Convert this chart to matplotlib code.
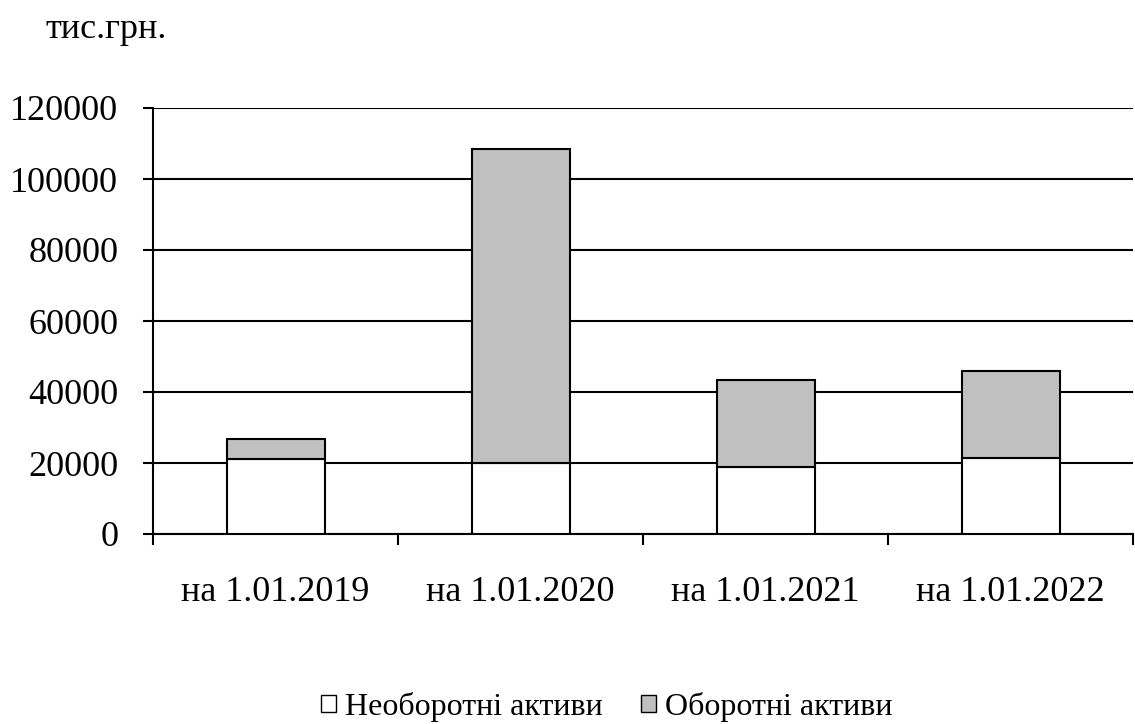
import numpy as np
import matplotlib.pyplot as plt
from matplotlib.patches import Patch

dates = ['на 1.01.2019', 'на 1.01.2020', 'на 1.01.2021', 'на 1.01.2022']
non_current = [21000, 20000, 18900, 21400]   # Необоротні активи
current = [5700, 88400, 24500, 24600]        # Оборотні активи
y_ticks = [0, 20000, 40000, 60000, 80000, 100000, 120000]

LW = 1.5
plt.rcParams['font.family'] = ['Liberation Serif', 'DejaVu Serif']

fig = plt.figure(figsize=(11.35, 7.24), dpi=100)
ax = fig.add_axes([153 / 1135, 1 - 534 / 724, 980 / 1135, 426 / 724])

x = np.arange(len(dates))
ax.bar(x, non_current, width=0.4, color='white', edgecolor='black', linewidth=LW, zorder=3)
ax.bar(x, current, width=0.4, bottom=non_current, color='#c0c0c0', edgecolor='black',
       linewidth=LW, zorder=3)

ax.set_xlim(-0.5, len(dates) - 0.5)
ax.set_ylim(0, 120000)
ax.set_yticks(y_ticks)
ax.set_yticklabels([str(v) for v in y_ticks])
ax.yaxis.grid(True, color='black', linewidth=LW, zorder=0)
ax.set_axisbelow(True)

# category boundaries get the tick marks, centres get the labels
ax.set_xticks(np.arange(len(dates) + 1) - 0.5)
ax.set_xticklabels([])
ax.set_xticks(x, minor=True)
ax.set_xticklabels(dates, minor=True)
ax.tick_params(axis='x', which='major', direction='out', length=8, width=LW)
ax.tick_params(axis='x', which='minor', length=0, pad=30, labelsize=26)
ax.tick_params(axis='y', direction='out', length=7, width=LW, pad=18, labelsize=26)

for s in ['top', 'right']:
    ax.spines[s].set_visible(False)
for s in ['left', 'bottom']:
    ax.spines[s].set_linewidth(LW)

fig.text(45 / 1135, 1 - 30 / 724, 'тис.грн.', fontsize=26, va='center', ha='left')

handles = [Patch(facecolor='white', edgecolor='black', linewidth=1),
           Patch(facecolor='#c0c0c0', edgecolor='black', linewidth=1)]
fig.legend(handles, ['Необоротні активи', 'Оборотні активи'], loc='center',
           bbox_to_anchor=(607 / 1135, 1 - 707 / 724), ncol=2, frameon=False,
           fontsize=23, handlelength=0.45, handleheight=0.45, handletextpad=0.3,
           columnspacing=1.2, borderpad=0)

fig.savefig('out.png', dpi=100)
